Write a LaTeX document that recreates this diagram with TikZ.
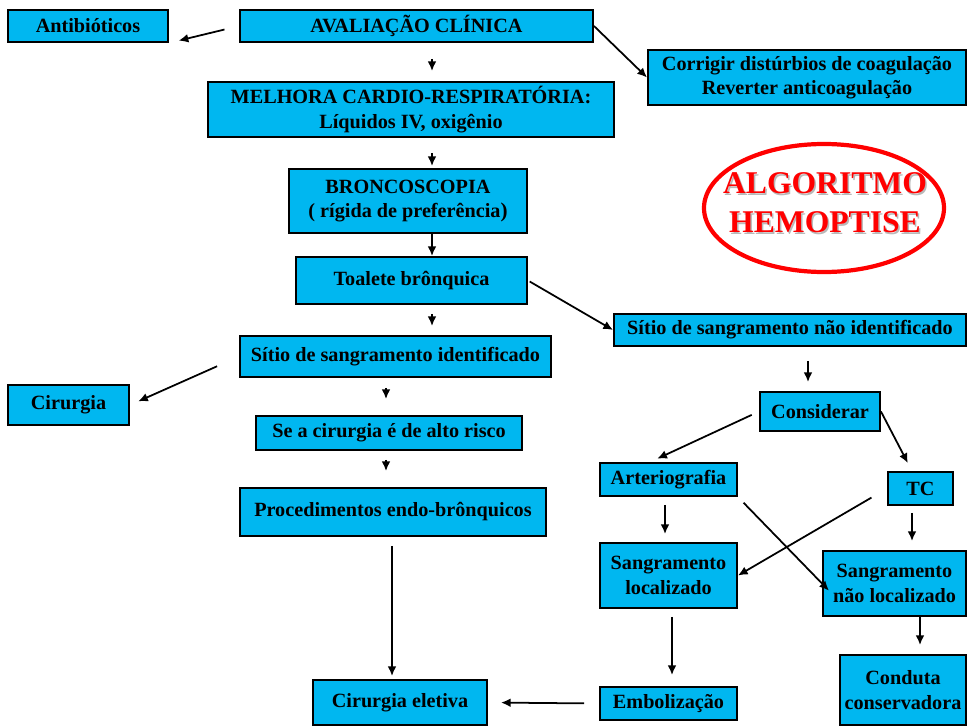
\documentclass[tikz,border=0pt]{standalone}
\usepackage{fontspec}
\setmainfont{Liberation Serif}
\usetikzlibrary{arrows.meta,shapes.geometric}
\definecolor{boxblue}{RGB}{0,183,240}
\begin{document}
\begin{tikzpicture}
[x=0.02cm,y=-0.02cm,>={Latex[length=5.5pt,width=5pt]},
 box/.style={draw,line width=1.1pt,fill=boxblue,inner sep=0pt,align=center,
   font=\fontsize{11.5}{14}\selectfont\bfseries},
 sz/.style 2 args={minimum width=#1*0.02cm,minimum height=#2*0.02cm},
 arr/.style={->,line width=1pt},
 title/.style={align=center,font=\fontsize{18}{22}\selectfont\bfseries}]
\useasboundingbox (0,0) rectangle (968,727);

  % left column
  \node[box,sz={160}{32}] (anti) at (88,26) {Antibióticos};
  \node[box,sz={353}{32}] (aval) at (416.5,26) {AVALIAÇÃO CLÍNICA};
  \node[box,sz={318}{55}] (corr) at (807,77.5) {Corrigir distúrbios de coagulação\\Reverter anticoagulação};
  \node[box,sz={406}{55}] (melh) at (411,109.5) {MELHORA CARDIO-RESPIRATÓRIA:\\Líquidos IV, oxigênio};
  \node[box,sz={238}{64}] (bronc) at (408,201) {BRONCOSCOPIA\\( rígida de preferência{\large)}};
  \node[box,sz={231}{47}] (toal) at (411.5,280.5) {Toalete brônquica};
  \node[box,sz={311}{41}] (sid) at (395.5,356.5) {Sítio de sangramento identificado};
  \node[box,sz={121}{40}] (cir) at (68.5,405) {Cirurgia};
  \node[box,sz={266}{34}] (alto) at (389,433) {Se a cirurgia é de alto risco};
  \node[box,sz={306}{48}] (proc) at (393,512) {Procedimentos endo-brônquicos};
  \node[box,sz={174}{45}] (elet) at (400,702.5) {Cirurgia eletiva};

  % right column
  \node[box,sz={352}{32}] (nid) at (790,330) {Sítio de sangramento não identificado};
  \node[box,sz={120}{39}] (cons) at (820,411.5) {Considerar};
  \node[box,sz={137}{33}] (arte) at (668.5,479.5) {Arteriografia};
  \node[box,sz={65}{33}] (tc) at (920.5,488.5) {TC};
  \node[box,sz={137}{65}] (sloc) at (668.5,575.5) {Sangramento\\localizado};
  \node[box,sz={143}{65}] (snl) at (894.5,583.5) {Sangramento\\não localizado};
  \node[box,sz={126}{70}] (cond) at (903,690) {Conduta\\conservadora};
  \node[box,sz={137}{33}] (emb) at (668.5,703.5) {Embolização};

  % title
  \node[draw=red,line width=2.4pt,ellipse,sz={240}{128}] (oval) at (824,208) {};
  \node[title,text=gray!55] (sombra) at (826.5,205) {ALGORITMO\\HEMOPTISE};
  \node[title,text=red] (titulo) at (825,203) {ALGORITMO\\HEMOPTISE};

  \foreach \from/\to/\x/\a/\b in {aval/melh/432/0.32cm/0.2cm, melh/bronc/432/0.3cm/0.04cm,
      bronc/toal/432/0pt/0pt, toal/sid/432/0.18cm/0.18cm, sid/alto/386/0.2cm/0.32cm,
      alto/proc/386/0.18cm/0.32cm, proc/elet/392/0.18cm/0.06cm, nid/cons/808/0.28cm/0.18cm,
      arte/sloc/665/0.16cm/0.16cm, tc/snl/912/0.14cm/0.18cm, sloc/emb/672/0.16cm/0.22cm,
      snl/cond/920/0pt/0.18cm}
    \draw[arr,shorten <=\a,shorten >=\b] (\from.south -| \x,0) -- (\to.north -| \x,0);

  \draw[arr,shorten <=0.3cm,shorten >=0.2cm] (aval.west) -- (anti.south east);
  \draw[arr] (aval.east) -- (corr.west);
  \draw[arr,shorten <=0.04cm] (toal.east) -- (nid.west);
  \draw[arr,shorten <=0.48cm,shorten >=0.18cm] (sid.west) -- (cir.east);
  \draw[arr,shorten <=0.3cm,shorten >=0.26cm] (emb.west) -- (elet.east);
  \draw[arr,shorten <=0.16cm,shorten >=0.16cm] (cons.west) -- (arte.north -| 650,0);
  \draw[arr,shorten >=0.18cm] (cons.east) -- (tc.north -| 912,0);
  \draw[arr,shorten <=0.36cm] (tc.west) -- (sloc.east);
  \draw[arr,shorten <=0.16cm,shorten >=-0.2cm] (arte.south east) -- (snl.west);
\end{tikzpicture}
\end{document}
